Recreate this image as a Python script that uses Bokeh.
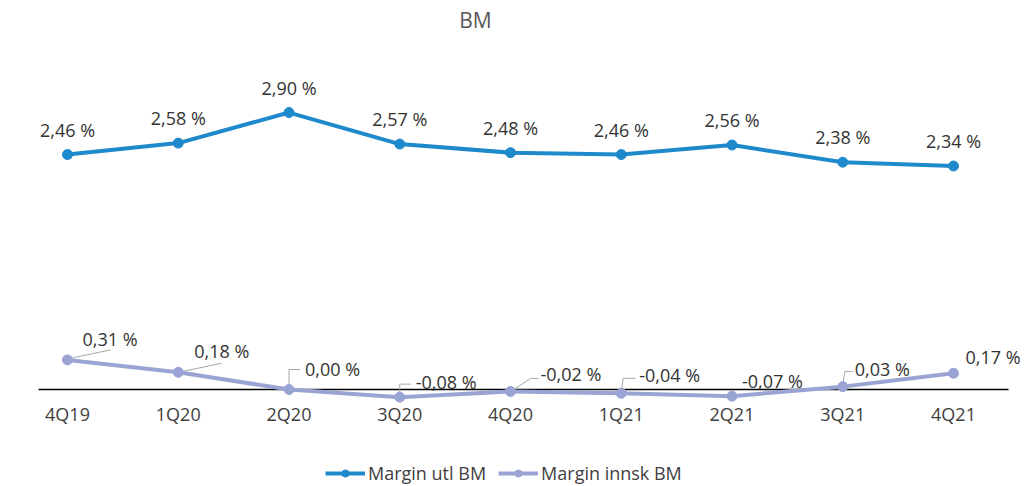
from bokeh.plotting import figure
from bokeh.models import ColumnDataSource, Range1d, Label, Legend
from bokeh.core.properties import value
from bokeh.embed import file_html
from bokeh.resources import INLINE

# ---- data ----
categories = ["4Q19", "1Q20", "2Q20", "3Q20", "4Q20", "1Q21", "2Q21", "3Q21", "4Q21"]
margin_utl = [2.46, 2.58, 2.90, 2.57, 2.48, 2.46, 2.56, 2.38, 2.34]
margin_innsk = [0.31, 0.18, 0.00, -0.08, -0.02, -0.04, -0.07, 0.03, 0.17]
series_names = ["Margin utl BM", "Margin innsk BM"]
title_text = "BM"

def fmt(v):
    s = f"{v:.2f}".replace(".", ",")
    return s + " %"

# ---- layout constants ----
W, H = 1025, 486
X0, DX = 67.0, 110.75      # px of first category, px per category
Y0, DY = 389.0, 95.5       # px (from top) of zero, px per unit
FONT = value("Open Sans")
BLUE = "#1F8ACB"
PURPLE = "#9AA4D4"

xs = list(range(len(categories)))

p = figure(width=W, height=H, output_backend="svg", toolbar_location=None,
           x_axis_location=None, y_axis_location=None,
           x_range=Range1d(-X0 / DX, (W - X0) / DX),
           y_range=Range1d((Y0 - H) / DY, Y0 / DY),
           min_border=0, min_border_left=0, min_border_right=0,
           min_border_top=0, min_border_bottom=0)
p.outline_line_color = None
p.grid.visible = False
p.background_fill_color = "white"
p.border_fill_color = "white"

# zero axis line
axis_left = (38 - X0) / DX
axis_right = (1008 - X0) / DX
p.segment(x0=[axis_left], y0=[0], x1=[axis_right], y1=[0], line_color="black", line_width=1.5)

# category labels
p.text(x=xs, y=[0] * len(xs), text=categories, text_font=FONT, text_font_size="18px",
       text_color="#404040", text_align="center", text_baseline="middle", y_offset=24)

# series 1
src1 = ColumnDataSource(dict(x=xs, y=margin_utl, lab=[fmt(v) for v in margin_utl]))
l1 = p.line("x", "y", source=src1, line_color=BLUE, line_width=4)
s1 = p.scatter("x", "y", source=src1, size=10, fill_color=BLUE, line_color=BLUE)
p.text("x", "y", text="lab", source=src1, text_font=FONT, text_font_size="18px",
       text_color="#333333", text_align="center", text_baseline="middle", y_offset=-25)

# series 2 leader lines (pixel polylines relative to point)
leaders = [
    [(5, -2), (43, -10)],
    [(5, -1), (43, -9)],
    [(0, -2), (0, -20), (11, -20)],
    [(0, -2), (0, -13), (11, -13)],
    [(2, -1), (20, -13), (28, -13)],
    [(0, -2), (2, -15), (14, -15)],
    [],
    [(0, -1), (2, -15), (10, -15)],
    [],
]
lx, ly = [], []
for i, (x, v) in enumerate(zip(xs, margin_innsk)):
    pts = leaders[i]
    if not pts:
        continue
    lx.append([x + dx / DX for dx, dy in pts])
    ly.append([v - dy / DY for dx, dy in pts])
p.multi_line(lx, ly, line_color="#A6A6A6", line_width=1)

# series 2
lab_dx = [15, 16, 16, 16, 30, 18, 10, 12, 12]
lab_dy = [-21, -21, -21, -15, -17, -18, -15, -18, -16]
src2 = ColumnDataSource(dict(x=xs, y=margin_innsk, lab=[fmt(v) for v in margin_innsk],
                             dx=lab_dx, dy=lab_dy))
l2 = p.line("x", "y", source=src2, line_color=PURPLE, line_width=4)
s2 = p.scatter("x", "y", source=src2, size=10, fill_color=PURPLE, line_color=PURPLE)
p.text("x", "y", text="lab", source=src2, text_font=FONT, text_font_size="18px",
       text_color="#333333", text_align="left", text_baseline="middle",
       x_offset="dx", y_offset="dy")

# title
p.add_layout(Label(x=475, y=H - 19, x_units="screen", y_units="screen", text=title_text,
                   text_font="Open Sans", text_font_size="21px", text_color="#595959",
                   text_align="center", text_baseline="middle"))

# legend
legend = Legend(items=[(series_names[0], [l1, s1]), (series_names[1], [l2, s2])],
                orientation="horizontal", location=(325, 1),
                border_line_color=None, background_fill_alpha=0,
                glyph_width=40, glyph_height=18, label_height=18,
                label_text_font="Open Sans", label_text_font_size="18px",
                label_text_color="#404040", padding=0, margin=0, spacing=12,
                label_standoff=3)
p.add_layout(legend)

open("out.html", "w").write(file_html(p, INLINE))
